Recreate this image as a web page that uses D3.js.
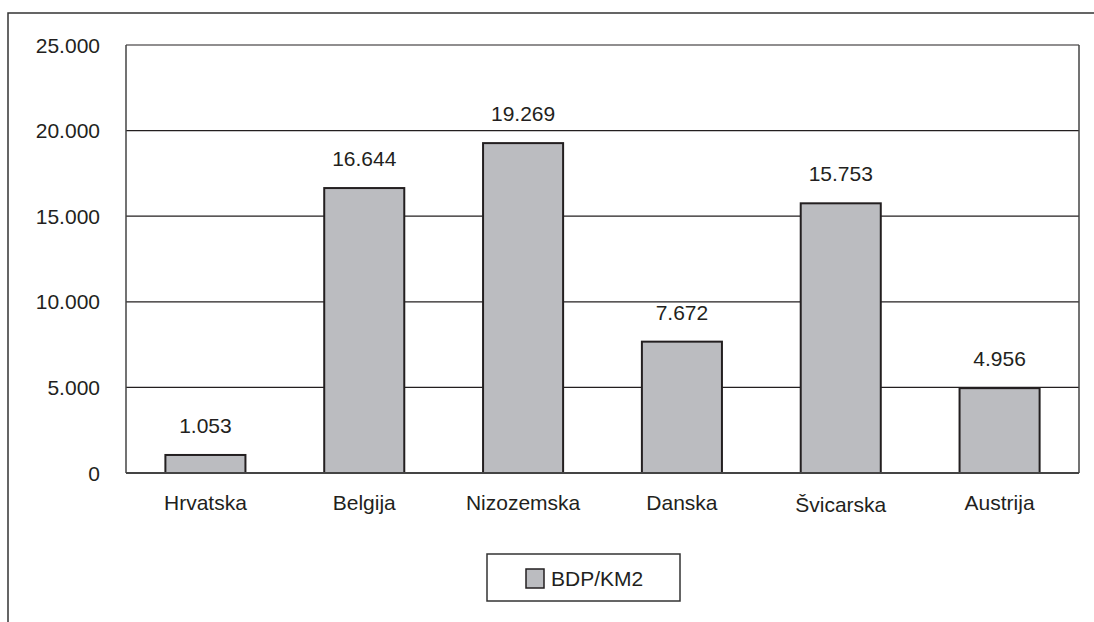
<!DOCTYPE html>
<html><head><meta charset="utf-8">
<script src="https://cdn.jsdelivr.net/npm/d3@7"></script>
<style>body{margin:0;background:#fff}svg{display:block}text{font-family:"Liberation Sans",Arial,sans-serif;fill:#231f20}</style>
</head><body><svg id="c" width="1094" height="622"></svg>
<script>
const categories = ["Hrvatska","Belgija","Nizozemska","Danska","Švicarska","Austrija"];
const values = [1053,16644,19269,7672,15753,4956];
const valueLabels = ["1.053","16.644","19.269","7.672","15.753","4.956"];
const yTicks = [0,5000,10000,15000,20000,25000];
const yTickLabels = ["0","5.000","10.000","15.000","20.000","25.000"];
const seriesName = "BDP/KM2";

const svg = d3.select("#c");
const L=126,R=1079,T=45,B=473;
const x = d3.scaleBand().domain(categories).range([L,R]).paddingInner(0.496).paddingOuter(0.248);
const y = d3.scaleLinear().domain([0,25000]).range([B,T]);
const ink="#231f20", fill="#bbbcc0", fs=21;

// outer frame
svg.append("path").attr("d","M8,622V13H1094").attr("fill","none").attr("stroke","#333").attr("stroke-width",1.5);

// gridlines
svg.append("g").selectAll("line").data(yTicks.slice(1)).join("line")
  .attr("x1",L).attr("x2",R).attr("y1",d=>y(d)).attr("y2",d=>y(d))
  .attr("stroke",ink).attr("stroke-width",1.2);
// plot border sides
svg.append("line").attr("x1",L).attr("x2",L).attr("y1",T).attr("y2",B).attr("stroke","#444").attr("stroke-width",1.5);
svg.append("line").attr("x1",R).attr("x2",R).attr("y1",T).attr("y2",B).attr("stroke","#444").attr("stroke-width",1.5);

// y tick labels
svg.append("g").selectAll("text").data(yTicks).join("text")
  .attr("x",100).attr("y",d=>y(d)).attr("dy","0.36em").attr("text-anchor","end")
  .attr("font-size",fs).text((d,i)=>yTickLabels[i]);

// bars
svg.append("g").selectAll("rect").data(values).join("rect")
  .attr("x",(d,i)=>x(categories[i])).attr("width",x.bandwidth())
  .attr("y",d=>y(d)).attr("height",d=>B-y(d))
  .attr("fill",fill).attr("stroke",ink).attr("stroke-width",2);

// baseline axis
svg.append("line").attr("x1",L).attr("x2",R).attr("y1",B).attr("y2",B).attr("stroke","#444").attr("stroke-width",1.8);

// value labels
svg.append("g").selectAll("text").data(values).join("text")
  .attr("x",(d,i)=>x(categories[i])+x.bandwidth()/2).attr("y",d=>y(d)-22)
  .attr("text-anchor","middle").attr("font-size",fs).text((d,i)=>valueLabels[i]);

// category labels
svg.append("g").selectAll("text").data(categories).join("text")
  .attr("x",d=>x(d)+x.bandwidth()/2).attr("y",d=>d.startsWith("Š")?512:510)
  .attr("text-anchor","middle").attr("font-size",fs).text(d=>d);

// legend
svg.append("rect").attr("x",487).attr("y",554).attr("width",193).attr("height",47)
  .attr("fill","#fff").attr("stroke","#333").attr("stroke-width",1.5);
svg.append("rect").attr("x",526).attr("y",569).attr("width",18).attr("height",19)
  .attr("fill",fill).attr("stroke",ink).attr("stroke-width",1.5);
svg.append("text").attr("x",551).attr("y",586).attr("font-size",fs).text(seriesName);
</script></body></html>
